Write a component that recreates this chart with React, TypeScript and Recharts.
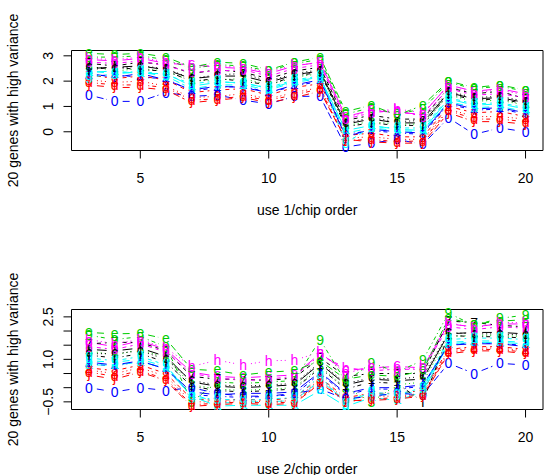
import React from "react";
import { LineChart, Line, XAxis, YAxis, ReferenceArea } from "recharts";

// chip positions on the x axis
const chips = [3, 4, 5, 6, 7, 8, 9, 10, 11, 12, 13, 14, 15, 16, 17, 18, 19, 20];

// matplot style: symbol, colour and dash cycle per gene
const genePch = ["1", "2", "3", "4", "5", "6", "7", "8", "9", "0", "a", "b", "c", "d", "e", "f", "g", "h", "i", "j"];
const palette = ["#000000", "#FF0000", "#00CD00", "#0000FF", "#00FFFF", "#FF00FF"];
const dashes = [undefined, "4 4", "1 3", "1 3 4 3", "7 3"];

// use 1: one row per chip, 20 genes each
const use1 = [
  [2.5, 2.25, 2.6, 2.2, 2.4, 2.85, 2.7, 2.05, 2.95, 1.45, 2.35, 2.75, 2.55, 1.95, 3.1, 2.3, 2.15, 2.9, 2.45, 1.85],
  [2.55, 2.1, 2.4, 2.25, 2.3, 2.8, 2.6, 1.95, 2.95, 1.2, 2.4, 2.7, 2.5, 1.85, 3.05, 2.15, 2.3, 2.85, 2.55, 1.75],
  [2.6, 2.2, 2.5, 2.15, 2.35, 2.9, 2.75, 2.0, 3.0, 1.2, 2.3, 2.8, 2.6, 1.85, 3.1, 2.3, 2.4, 2.95, 2.45, 1.75],
  [2.45, 2.05, 2.4, 2.1, 2.2, 2.7, 2.65, 1.8, 2.85, 1.55, 2.3, 2.6, 2.5, 1.75, 2.95, 2.05, 2.25, 2.75, 2.4, 1.65],
  [2.1, 1.55, 2.0, 1.6, 1.7, 2.65, 2.3, 1.35, 2.5, 1.4, 1.8, 2.35, 2.1, 1.25, 2.55, 1.65, 1.9, 2.6, 2.0, 1.15],
  [2.2, 1.65, 2.05, 1.75, 1.85, 2.55, 2.45, 1.4, 2.65, 1.45, 1.95, 2.4, 2.25, 1.3, 2.75, 1.8, 2.0, 2.6, 2.1, 1.25],
  [2.2, 1.7, 2.1, 1.8, 1.85, 2.5, 2.35, 1.5, 2.6, 1.25, 1.95, 2.45, 2.3, 1.4, 2.7, 1.75, 1.9, 2.55, 2.0, 1.35],
  [1.95, 1.45, 1.85, 1.55, 1.65, 2.3, 2.1, 1.3, 2.4, 1.1, 1.7, 2.2, 2.0, 1.25, 2.45, 1.55, 1.75, 2.35, 1.85, 1.15],
  [2.25, 1.75, 2.15, 1.8, 1.95, 2.6, 2.4, 1.55, 2.7, 1.4, 2.0, 2.5, 2.3, 1.45, 2.75, 1.85, 2.05, 2.65, 2.2, 1.35],
  [2.4, 1.9, 2.3, 2.0, 2.1, 2.75, 2.55, 1.75, 2.85, 1.4, 2.15, 2.65, 2.45, 1.7, 2.95, 2.05, 2.2, 2.7, 2.35, 1.6],
  [0.3, -0.15, 0.25, -0.1, -0.05, 0.6, 0.45, -0.25, 0.7, -0.6, 0.05, 0.5, 0.35, -0.35, 0.8, -0.2, -0.45, 0.55, 0.2, -0.3],
  [0.5, -0.05, 0.4, 0.05, 0.15, 0.85, 0.65, -0.2, 0.95, -0.45, 0.25, 0.75, 0.55, -0.3, 1.05, 0.1, 0.2, 0.8, 0.35, -0.4],
  [0.35, -0.2, 0.3, -0.05, 0.05, 0.75, 0.5, -0.3, 0.7, -0.3, 0.1, 0.85, 0.4, -0.4, 0.65, 0.0, 0.15, 0.9, 0.25, -0.45],
  [0.35, -0.2, 0.3, -0.1, 0.0, 0.7, 0.5, -0.3, 0.9, -0.5, 0.05, 0.6, 0.45, -0.35, 1.05, -0.05, 0.15, 0.75, 0.25, -0.45],
  [1.55, 1.0, 1.45, 1.1, 1.2, 1.85, 1.75, 0.9, 1.95, 0.55, 1.3, 1.7, 1.6, 0.85, 2.0, 1.15, 1.35, 1.8, 1.5, 0.75],
  [1.3, 0.75, 1.2, 0.85, 0.95, 1.6, 1.5, 0.6, 1.7, -0.1, 1.05, 1.45, 1.35, 0.5, 1.75, 0.9, 1.1, 1.55, 1.25, 0.4],
  [1.35, 0.8, 1.25, 0.9, 1.0, 1.7, 1.6, 0.6, 1.8, 0.15, 1.1, 1.5, 1.4, 0.5, 1.85, 0.95, 1.15, 1.65, 1.3, 0.4],
  [1.15, 0.6, 1.05, 0.7, 0.8, 1.5, 1.3, 0.5, 1.6, 0.0, 0.9, 1.35, 1.2, 0.4, 1.65, 0.75, 0.95, 1.45, 1.1, 0.3],
];

// use 2
const use2 = [
  [1.35, 0.7, 1.3, 0.85, 0.95, 1.6, 1.55, 0.62, 1.85, 0.0, 0.8, 1.45, 1.2, 0.55, 1.95, 0.9, 1.05, 1.7, 1.15, 0.45],
  [1.3, 0.6, 1.15, 0.75, 0.9, 1.45, 1.6, 0.5, 1.7, -0.15, 0.8, 1.35, 1.2, 0.4, 1.9, 0.8, 0.95, 1.55, 1.05, 0.3],
  [1.4, 0.8, 1.35, 0.95, 1.0, 1.65, 1.6, 0.7, 1.8, 0.0, 0.9, 1.55, 1.3, 0.6, 1.92, 0.95, 1.1, 1.7, 1.2, 0.55],
  [1.1, 0.5, 1.05, 0.65, 0.75, 1.35, 1.3, 0.4, 1.45, -0.1, 0.7, 1.25, 1.0, 0.3, 1.72, 0.65, 0.8, 1.4, 0.9, 0.25],
  [0.2, -0.4, 0.1, -0.25, -0.2, 0.55, 0.4, -0.5, -0.5, 0.0, -0.3, 0.5, 0.25, -0.6, 0.65, -0.15, -0.35, 0.75, 0.05, -0.66],
  [0.05, -0.45, -0.05, -0.3, -0.55, 0.4, 0.3, -0.5, 0.2, -0.2, -0.65, 0.35, 0.1, -0.55, 0.6, -0.25, -0.4, 0.97, -0.1, -0.6],
  [0.0, -0.4, -0.1, -0.35, -0.5, 0.35, 0.3, -0.45, 0.15, -0.3, -0.62, 0.25, 0.05, -0.5, 0.45, -0.2, -0.45, 0.8, -0.15, -0.55],
  [0.05, -0.45, -0.05, -0.3, -0.5, 0.4, 0.25, -0.5, 0.2, -0.3, -0.62, 0.3, 0.1, -0.55, 0.55, -0.2, -0.4, 0.95, -0.1, -0.6],
  [0.1, -0.35, 0.0, -0.25, -0.45, 0.45, 0.35, -0.45, 0.25, -0.2, -0.62, 0.4, 0.15, -0.5, 0.6, -0.15, -0.35, 0.97, -0.05, -0.55],
  [0.85, 0.35, 0.75, 0.5, 0.25, 1.2, 1.05, 0.3, 1.7, -0.05, -0.1, 1.15, 0.9, 0.2, 0.95, 0.55, 0.4, 1.25, 0.7, 0.15],
  [0.1, -0.35, 0.0, -0.25, -0.45, 0.6, 0.4, -0.4, 0.2, -0.4, -0.66, 0.7, 0.15, -0.5, 0.3, -0.2, -0.55, 0.5, -0.05, -0.45],
  [0.3, -0.2, -0.5, -0.05, -0.2, 0.7, 0.5, -0.3, 0.88, -0.3, -0.35, 0.6, 0.35, -0.4, 0.45, 0.0, -0.15, 0.75, 0.2, -0.45],
  [0.25, -0.2, 0.1, -0.05, -0.3, 0.75, 0.5, -0.3, 0.55, -0.2, -0.45, 0.65, 0.3, -0.35, 0.4, 0.0, -0.25, 0.6, 0.15, -0.4],
  [0.3, -0.1, 0.2, 0.05, -0.05, 0.7, 0.5, -0.2, 0.97, -0.25, -0.15, 0.65, 0.4, -0.25, 0.6, 0.1, 0.0, 0.75, -0.5, -0.3],
  [1.9, 1.35, 1.8, 1.5, 1.6, 2.25, 2.35, 1.3, 2.63, 0.86, 1.55, 2.15, 1.95, 1.25, 2.45, 1.5, 1.7, 2.3, 1.85, 1.2],
  [1.95, 1.45, 1.85, 1.6, 1.65, 2.15, 2.3, 1.4, 2.2, 0.5, 1.6, 2.05, 1.9, 1.35, 2.25, 1.55, 1.75, 2.1, 1.8, 1.3],
  [1.95, 1.45, 1.85, 1.55, 1.65, 2.25, 2.2, 1.4, 2.45, 0.86, 1.6, 2.15, 1.9, 1.35, 2.35, 1.55, 1.75, 2.3, 1.8, 1.3],
  [1.9, 1.35, 1.8, 1.5, 1.6, 2.25, 2.15, 1.3, 2.56, 0.8, 1.55, 2.1, 1.85, 1.25, 2.4, 1.45, 1.7, 2.3, 1.75, 1.2],
];

const xTicks = [5, 10, 15, 20];
const use1YTicks = [0, 1, 2, 3];
const use2YTicks = [-0.5, 0, 0.5, 1, 1.5, 2, 2.5];
const use2YLabels: Record<string, string> = { "-0.5": "\u22120.5", "1": "1.0", "2.5": "2.5" };

const FONT = "'Liberation Sans', Arial, Helvetica, sans-serif";
const GAP = 8; // type="b" leaves a gap round each symbol

function buildRows(values: number[][]) {
  return chips.map((chip, i) => {
    const row: Record<string, number> = { chip };
    values[i].forEach((v, g) => {
      row["g" + (g + 1)] = v;
    });
    return row;
  });
}

// vertical centring offset for the symbol glyphs
function glyphDy(ch: string) {
  if ("aceg".includes(ch)) return ch === "g" ? "0.16em" : "0.27em";
  if (ch === "j") return "0.2em";
  return "0.36em";
}

function makeDot(gene: number) {
  const color = palette[gene % 6];
  const dash = dashes[gene % 5];
  const ch = genePch[gene];
  return (props: any) => {
    const { cx, cy, index, points } = props;
    const next = points ? points[index + 1] : null;
    let seg = null;
    if (next) {
      const dx = next.x - cx;
      const dy = next.y - cy;
      const len = Math.hypot(dx, dy);
      if (len > 2 * GAP) {
        const f = GAP / len;
        seg = (
          <line
            x1={cx + dx * f}
            y1={cy + dy * f}
            x2={next.x - dx * f}
            y2={next.y - dy * f}
            stroke={color}
            strokeWidth={1}
            strokeDasharray={dash}
          />
        );
      }
    }
    return (
      <g key={`d${gene}-${index}`}>
        {seg}
        <text x={cx} y={cy} dy={glyphDy(ch)} textAnchor="middle" fontSize={14} fontFamily={FONT} fill={color}>
          {ch}
        </text>
      </g>
    );
  };
}

const XTick = (props: any) => {
  const { x, y, payload } = props;
  return (
    <text x={x} y={y + 22} textAnchor="middle" fontSize={14} fontFamily={FONT} fill="#000">
      {payload.value}
    </text>
  );
};

function makeYTick(labels: Record<string, string> | null) {
  return (props: any) => {
    const { x, y, payload } = props;
    const key = String(payload.value);
    const txt = labels ? labels[key] : key;
    if (!txt) return <g />;
    const tx = x - 8;
    return (
      <text x={tx} y={y} transform={`rotate(-90, ${tx}, ${y})`} textAnchor="middle" fontSize={14} fontFamily={FONT} fill="#000">
        {txt}
      </text>
    );
  };
}

const xTitle = (title: string) => (props: any) => {
  const vb = props.viewBox;
  return (
    <text x={vb.x + vb.width / 2} y={vb.y + 64.5} textAnchor="middle" fontSize={14} fontFamily={FONT} fill="#000">
      {title}
    </text>
  );
};

const yTitle = (props: any) => {
  const vb = props.viewBox;
  const tx = vb.x - 13.5;
  const ty = vb.y + vb.height / 2;
  return (
    <text x={tx} y={ty} transform={`rotate(-90, ${tx}, ${ty})`} textAnchor="middle" fontSize={14} fontFamily={FONT} fill="#000">
      20 genes with high variance
    </text>
  );
};

interface PanelProps {
  values: number[][];
  yDomain: [number, number];
  yTicks: number[];
  yLabels: Record<string, string> | null;
  title: string;
  height: number;
}

function Panel({ values, yDomain, yTicks, yLabels, title, height }: PanelProps) {
  const rows = buildRows(values);
  const xDomain: [number, number] = [2.32, 20.68];
  return (
    <LineChart
      width={544}
      height={height}
      data={rows}
      margin={{ top: 50.5, right: 1, left: 31.5, bottom: height - 50.5 - 100 - 30 }}
    >
      <XAxis
        dataKey="chip"
        type="number"
        domain={xDomain}
        ticks={xTicks}
        interval={0}
        axisLine={false}
        tickSize={8}
        tickMargin={2}
        tickLine={{ stroke: "#000" }}
        tick={XTick}
        height={30}
        label={xTitle(title)}
      />
      <YAxis
        type="number"
        domain={yDomain}
        ticks={yTicks}
        interval={0}
        axisLine={false}
        tickSize={8}
        tickMargin={2}
        tickLine={{ stroke: "#000" }}
        tick={makeYTick(yLabels)}
        width={40}
        label={yTitle}
      />
      <ReferenceArea x1={xDomain[0]} x2={xDomain[1]} y1={yDomain[0]} y2={yDomain[1]} fill="none" stroke="#000" strokeWidth={1} fillOpacity={0} />
      {genePch.map((_, g) => (
        <Line
          key={g}
          dataKey={"g" + (g + 1)}
          type="linear"
          stroke="none"
          dot={makeDot(g)}
          activeDot={false}
          isAnimationActive={false}
        />
      ))}
    </LineChart>
  );
}

export default function App() {
  return (
    <div style={{ position: "absolute", left: 0, top: 0, width: 544, height: 475, background: "#fff", overflow: "hidden" }}>
      <div style={{ position: "absolute", left: 0, top: 0 }}>
        <Panel values={use1} yDomain={[-0.74, 3.21]} yTicks={use1YTicks} yLabels={null} title="use 1/chip order" height={259} />
      </div>
      <div style={{ position: "absolute", left: 0, top: 259 }}>
        <Panel values={use2} yDomain={[-0.77, 2.76]} yTicks={use2YTicks} yLabels={use2YLabels} title="use 2/chip order" height={216} />
      </div>
    </div>
  );
}
